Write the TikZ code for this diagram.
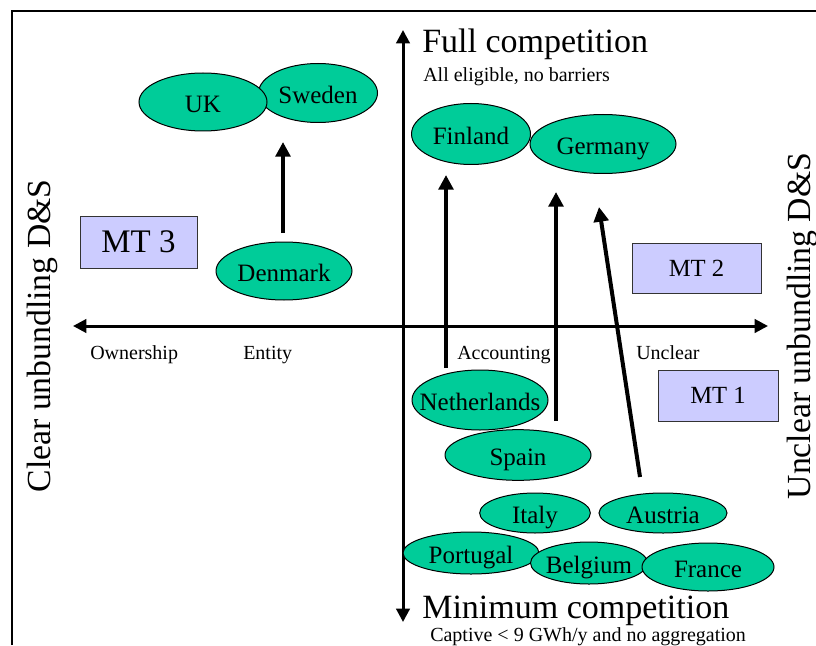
\documentclass[tikz,border=0pt]{standalone}
\usepackage{fontspec}
\setmainfont{Liberation Serif}
\usetikzlibrary{arrows.meta,shapes.geometric}
\definecolor{cgreen}{RGB}{0,204,153}
\definecolor{clav}{RGB}{204,204,255}
\begin{document}
\begin{tikzpicture}[x=0.75pt,y=-0.75pt,
  country/.style={ellipse, draw=black, line width=0.75pt, fill=cgreen, inner xsep=-10pt, inner ysep=-4pt,
    text height=15.5pt, text depth=0pt, font=\fontsize{18.75}{20}\selectfont},
  mtbox/.style={rectangle, draw=black!80, line width=0.75pt, fill=clav, inner sep=0pt},
  axislabel/.style={anchor=base west, inner sep=0pt, font=\fontsize{15}{17}\selectfont},
  bigtitle/.style={anchor=base west, inner sep=0pt, font=\fontsize{25.5}{28}\selectfont},
  sidelabel/.style={rotate=90, anchor=base, inner sep=0pt, font=\fontsize{25.3}{28}\selectfont},
  axisline/.style={line width=2.25pt, {Triangle[length=10pt,width=10pt]}-{Triangle[length=10pt,width=10pt]}},
  movearrow/.style={line width=3pt, -{Triangle[length=11pt,width=11pt]}}
]
\useasboundingbox (0,0) rectangle (816,645);
% frame
\coordinate (fbl) at (12,645);
\coordinate (ftl) at (12,11);
\coordinate (ftr) at (816,11);
\draw[line width=1.5pt] (fbl) -- (ftl) -- (ftr);

% axes
\coordinate (axL) at (73,326);
\coordinate (axR) at (768,326);
\coordinate (axT) at (403,30);
\coordinate (axB) at (403,622);
\draw[axisline] (axL) -- (axR);
\draw[axisline] (axT) -- (axB);

% titles
\node[bigtitle] (full) at (422,53) {Full competition};
\node[axislabel] (alle) at (423,82) {All eligible, no barriers};
\node[bigtitle] (mini) at (422,618) {Minimum competition};
\node[axislabel] (capt) at (430,641) {Captive < 9 GWh/y and no aggregation};

\node[axislabel] (own) at (90,359) {Ownership};
\node[axislabel] (ent) at (243,359) {Entity};
\node[axislabel] (acc) at (457,359) {Accounting};
\node[axislabel] (uncl) at (636,359) {Unclear};

\node[sidelabel] (clear) at (50,336) {Clear unbundling D\&S};
\node[sidelabel] (uncl2) at (810,326) {Unclear unbundling D\&S};

% MT boxes
\node[mtbox, minimum width=87.75pt, minimum height=39pt, font=\fontsize{24.7}{26}\selectfont] (mt3) at (138.5,242) {MT 3};
\node[mtbox, minimum width=96.75pt, minimum height=37.5pt, font=\fontsize{18.5}{20}\selectfont] (mt2) at (696.5,268) {MT 2};
\node[mtbox, minimum width=90pt, minimum height=38.25pt, font=\fontsize{18.5}{20}\selectfont] (mt1) at (718,395.5) {MT 1};

% countries
\node[country, minimum width=89.25pt, minimum height=44.25pt] (se) at (318,93) {Sweden};
\node[country, minimum width=96pt, minimum height=43.5pt] (uk) at (203,102) {UK};
\node[country, minimum width=102pt, minimum height=43.5pt] (dk) at (284,271) {Denmark};
\node[country, minimum width=109.5pt, minimum height=44.25pt] (de) at (603,144) {Germany};
\node[country, minimum width=89.25pt, minimum height=45.75pt] (fi) at (471,134) {Finland};
\node[country, minimum width=102pt, minimum height=45pt] (nl) at (480,400) {Netherlands};
\node[country, minimum width=109.5pt, minimum height=38pt] (es) at (518,455) {Spain};
\node[country, minimum width=83pt, minimum height=30pt] (it) at (535,513) {Italy};
\node[country, minimum width=96pt, minimum height=30pt] (at) at (663,513) {Austria};
\node[country, minimum width=102pt, minimum height=31.5pt] (pt) at (471,553) {Portugal};
\node[country, minimum width=87.75pt, minimum height=31.5pt] (be) at (589,563) {Belgium};
\node[country, minimum width=99pt, minimum height=36pt] (fr) at (708,567) {France};

% movement arrows
\coordinate (dkS) at (283,233);
\coordinate (dkE) at (283,142);
\coordinate (nlS) at (446,368);
\coordinate (nlE) at (446,175);
\coordinate (esS) at (556,421);
\coordinate (esE) at (556,192);
\coordinate (atS) at (640,477);
\coordinate (atE) at (599,207);
\draw[movearrow] (dkS) -- (dkE);
\draw[movearrow] (nlS) -- (nlE);
\draw[movearrow] (esS) -- (esE);
\draw[movearrow] (atS) -- (atE);
\end{tikzpicture}
\end{document}
